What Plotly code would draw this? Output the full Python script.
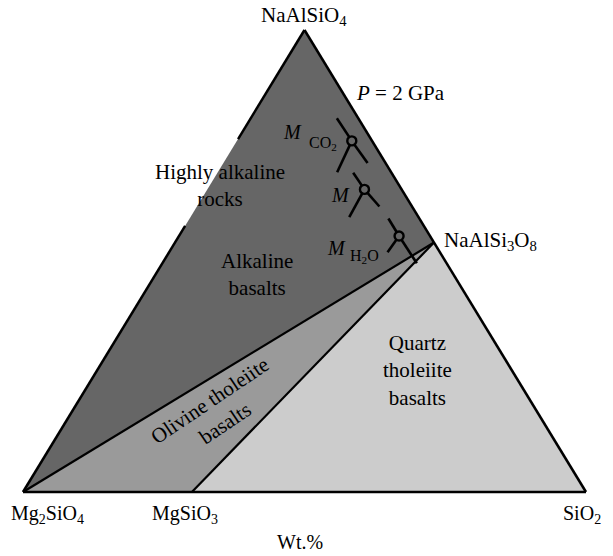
import plotly.graph_objects as go

# Compositions (wt. fractions): a = NaAlSiO4, c = SiO2, Mg2SiO4 = 1 - a - c
vertex_names = ["NaAlSiO4", "Mg2SiO4", "SiO2", "NaAlSi3O8", "MgSiO3"]
vertex_a = [1.00, 0.00, 0.00, 0.54, 0.00]
vertex_c = [0.00, 0.00, 1.00, 0.46, 0.30]

# gap in the drawn Fo–Ne edge (NaAlSiO4 fraction)
edge_gap = [0.576, 0.764]

# melt compositions M_CO2, M, M_H2O: centre and three arm ends (NaAlSiO4 %, SiO2 %)
melt_names = ["M_CO2", "M", "M_H2O"]
melt_center_a = [76.0, 65.5, 55.4]
melt_center_c = [20.4, 27.9, 39.1]
arm_upleft_a = [80.9, 69.1, 59.2]
arm_upleft_c = [15.3, 24.1, 35.3]
arm_downright_a = [71.2, 61.8, 49.5]
arm_downright_c = [25.6, 32.4, 45.2]
arm_downleft_a = [69.2, 59.5, 51.9]
arm_downleft_c = [21.2, 28.2, 38.8]

DARK, MID, LIGHT = "#666666", "#9a9a9a", "#cccccc"
W, H = 613, 556


def xy(a, c):
    return c + a / 2.0, a


V = {n: xy(a, c) for n, a, c in zip(vertex_names, vertex_a, vertex_c)}

fig = go.Figure()


def poly(names, color):
    xs = [V[n][0] for n in names] + [V[names[0]][0]]
    ys = [V[n][1] for n in names] + [V[names[0]][1]]
    fig.add_trace(go.Scatter(x=xs, y=ys, mode="lines", fill="toself", fillcolor=color,
                             line=dict(width=0, color=color), hoverinfo="skip", showlegend=False))


poly(["NaAlSiO4", "Mg2SiO4", "NaAlSi3O8"], DARK)
poly(["Mg2SiO4", "MgSiO3", "NaAlSi3O8"], MID)
poly(["MgSiO3", "SiO2", "NaAlSi3O8"], LIGHT)


def seg(p, q, width=2.2):
    fig.add_trace(go.Scatter(x=[p[0], q[0]], y=[p[1], q[1]], mode="lines",
                             line=dict(color="black", width=width), hoverinfo="skip", showlegend=False))


# boundaries inside
seg(V["Mg2SiO4"], V["NaAlSi3O8"], 2.2)
seg(V["MgSiO3"], V["NaAlSi3O8"], 2.2)
# outer edges
seg(V["Mg2SiO4"], V["SiO2"], 2.5)
seg(V["NaAlSiO4"], V["SiO2"], 2.5)
seg(V["NaAlSiO4"], xy(edge_gap[1], 0), 2.5)
seg(xy(edge_gap[0], 0), V["Mg2SiO4"], 2.5)

# melt arms
for i in range(3):
    cen = xy(melt_center_a[i] / 100, melt_center_c[i] / 100)
    for aa, cc in [(arm_upleft_a, arm_upleft_c), (arm_downright_a, arm_downright_c),
                   (arm_downleft_a, arm_downleft_c)]:
        seg(xy(aa[i] / 100, cc[i] / 100), cen, 2.6)

cx = [xy(a / 100, c / 100)[0] for a, c in zip(melt_center_a, melt_center_c)]
cy = [xy(a / 100, c / 100)[1] for a, c in zip(melt_center_a, melt_center_c)]
fig.add_trace(go.Scatter(x=cx, y=cy, mode="markers", text=melt_names, hoverinfo="text",
                         marker=dict(symbol="circle", size=9, color=DARK,
                                     line=dict(color="black", width=2.4)),
                         showlegend=False))

FONT = "Liberation Serif, Times New Roman, serif"


def ann(text, px, py, size=21, xanchor="center", angle=0):
    fig.add_annotation(x=px / W, y=1 - py / H, xref="paper", yref="paper", text=text,
                       showarrow=False, xanchor=xanchor, yanchor="middle", align="center",
                       textangle=angle, font=dict(family=FONT, size=size, color="black"))


ann("NaAlSiO<sub>4</sub>", 304, 16, 21)
ann("Mg<sub>2</sub>SiO<sub>4</sub>", 48, 514, 20)
ann("MgSiO<sub>3</sub>", 185, 514, 20)
ann("SiO<sub>2</sub>", 582, 514, 20)
ann("NaAlSi<sub>3</sub>O<sub>8</sub>", 442, 241, 21, xanchor="left")
ann("Wt.%", 300, 542, 20)
ann("<i>P</i> = 2 GPa", 400, 93, 21)
ann("Highly alkaline<br>rocks", 220, 186, 21)
ann("Alkaline<br>basalts", 257, 274, 21)
ann("Olivine tholeiite<br>basalts", 218, 412, 21, angle=-34)
ann("Quartz<br>tholeiite<br>basalts", 417, 370, 21)
ann("<i>M</i>", 292, 132, 20)
ann("CO<sub>2</sub>", 323, 144, 16)
ann("<i>M</i>", 340, 195, 20)
ann("<i>M</i>", 336, 248, 20)
ann("H<sub>2</sub>O", 365, 256, 16)

fig.update_layout(
    width=W, height=H, margin=dict(l=0, r=0, t=0, b=0),
    paper_bgcolor="white", plot_bgcolor="white",
    xaxis=dict(range=[-23 / 563, 590 / 563], visible=False, fixedrange=True),
    yaxis=dict(range=[-64 / 462, 492 / 462], visible=False, fixedrange=True),
)

fig.write_html("out.html", config={"displayModeBar": False},
               post_script="document.body.style.margin='0px';")
